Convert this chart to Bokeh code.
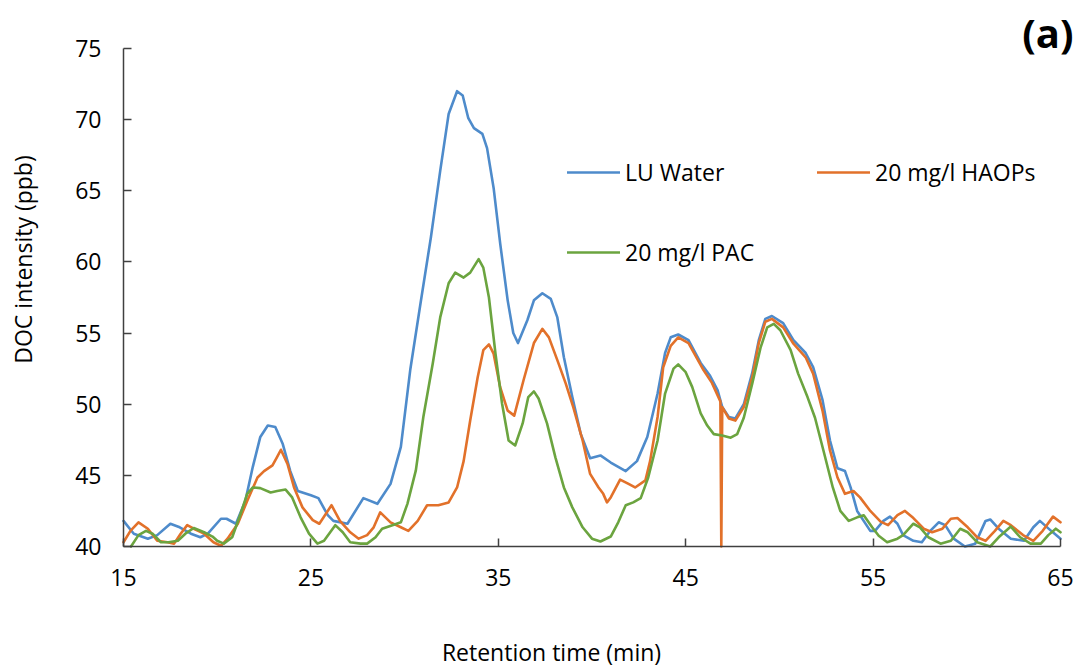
from math import pi
from bokeh.plotting import figure
from bokeh.models import Range1d, FixedTicker, Legend, LegendItem, Label
from bokeh.embed import file_html
from bokeh.resources import INLINE

# ---------------- data ----------------
x_ticks = [15, 25, 35, 45, 55, 65]
y_ticks = [40, 45, 50, 55, 60, 65, 70, 75]

lu_time = [15.0, 15.55, 16.3, 16.8, 17.5, 18.0, 18.6, 19.1, 19.5, 20.2,
           20.5, 21.0, 21.5, 21.9, 22.3, 22.7, 23.1, 23.5, 23.9, 24.3,
           25.0, 25.4, 25.9, 26.2, 26.95, 27.8, 28.55, 29.25, 29.8, 30.3,
           30.85, 31.4, 31.9, 32.35, 32.8, 33.1, 33.4, 33.7, 34.15, 34.4,
           34.75, 35.1, 35.5, 35.8, 36.05, 36.55, 36.9, 37.35, 37.8, 38.15,
           38.5, 38.95, 39.4, 39.9, 40.45, 41.0, 41.8, 42.4, 42.95, 43.5,
           43.9, 44.2, 44.6, 45.15, 45.8, 46.3, 46.7, 46.95, 47.3, 47.65,
           48.1, 48.55, 48.9, 49.25, 49.6, 50.2, 50.75, 51.4, 51.8, 52.3,
           52.7, 53.1, 53.5, 53.8, 54.15, 54.85, 55.1, 55.55, 55.9, 56.3,
           56.6, 57.15, 57.6, 58.05, 58.5, 58.85, 59.3, 59.9, 60.45, 61.0,
           61.25, 61.7, 62.35, 63.05, 63.55, 63.9, 64.5, 65.0]
lu_doc = [41.8, 40.9, 40.55, 40.8, 41.6, 41.35, 40.9, 40.65, 40.9, 41.95,
          41.95, 41.6, 43.2, 45.6, 47.7, 48.5, 48.4, 47.2, 45.3, 43.9,
          43.6, 43.4, 42.2, 41.8, 41.6, 43.4, 43.0, 44.4, 47.0, 52.4,
          57.1, 61.7, 66.4, 70.4, 72.0, 71.7, 70.1, 69.4, 69.0, 68.0,
          65.2, 61.3, 57.3, 55.0, 54.3, 55.9, 57.3, 57.8, 57.4, 56.1,
          53.3, 50.5, 47.9, 46.2, 46.4, 45.9, 45.3, 46.0, 47.7, 50.75,
          53.6, 54.7, 54.9, 54.5, 52.9, 52.0, 51.0, 49.8, 49.1, 49.0,
          50.0, 52.2, 54.5, 56.0, 56.2, 55.7, 54.5, 53.6, 52.6, 50.3,
          47.45, 45.5, 45.3, 44.15, 42.5, 41.1, 41.1, 41.8, 42.1, 41.6,
          40.8, 40.4, 40.3, 41.1, 41.7, 41.5, 40.55, 40.0, 40.2, 41.8,
          41.9, 41.25, 40.55, 40.4, 41.35, 41.8, 41.1, 40.55]

haops_time = [15.0, 15.37, 15.8, 16.3, 16.8, 17.35, 17.7, 18.05, 18.4, 18.75,
              19.3, 19.8, 20.2, 20.55, 21.1, 21.6, 22.15, 22.5, 22.95, 23.2,
              23.4, 23.75, 24.1, 24.55, 25.1, 25.45, 26.1, 26.55, 27.1, 27.55,
              28.0, 28.35, 28.7, 29.25, 29.8, 30.2, 30.7, 31.2, 31.8, 32.35,
              32.8, 33.15, 33.5, 33.9, 34.2, 34.5, 34.75, 35.1, 35.5, 35.85,
              36.35, 36.9, 37.35, 37.7, 38.15, 38.6, 39.0, 39.5, 39.9, 40.35,
              40.6, 40.8, 41.0, 41.5, 41.95, 42.3, 42.85, 43.1, 43.5, 43.8,
              44.2, 44.6, 45.15, 45.95, 46.4, 46.85, 46.9, 46.95, 47.3, 47.65,
              48.1, 48.55, 48.9, 49.25, 49.6, 50.2, 50.75, 51.4, 51.8, 52.3,
              52.7, 53.1, 53.5, 53.95, 54.3, 54.85, 55.4, 55.8, 56.3, 56.7,
              57.15, 57.7, 58.15, 58.7, 59.15, 59.5, 60.05, 60.55, 61.0, 61.5,
              61.95, 62.35, 63.0, 63.55, 64.05, 64.6, 65.0]
haops_doc = [40.3, 41.1, 41.7, 41.25, 40.4, 40.3, 40.2, 40.9, 41.5, 41.25,
             40.9, 40.3, 40.05, 40.55, 41.6, 43.2, 44.85, 45.3, 45.7, 46.3,
             46.8, 45.8, 44.15, 42.75, 41.85, 41.6, 42.9, 41.8, 41.0, 40.55,
             40.8, 41.35, 42.4, 41.7, 41.35, 41.1, 41.8, 42.9, 42.9, 43.1,
             44.15, 46.0, 48.85, 51.9, 53.8, 54.2, 53.55, 51.2, 49.55, 49.2,
             51.7, 54.3, 55.3, 54.7, 53.1, 51.45, 49.8, 47.45, 45.1, 44.15,
             43.7, 43.1, 43.45, 44.7, 44.4, 44.15, 44.65, 46.0, 49.1, 52.6,
             54.1, 54.7, 54.3, 52.4, 51.5, 50.2, 40.0, 49.8, 49.0, 48.85,
             49.8, 51.9, 54.3, 55.8, 56.0, 55.4, 54.25, 53.3, 52.15, 49.55,
             46.75, 44.85, 43.7, 43.9, 43.45, 42.5, 41.75, 41.5, 42.2, 42.5,
             42.0, 41.25, 41.0, 41.25, 41.95, 42.0, 41.35, 40.65, 40.4, 41.1,
             41.8, 41.5, 40.8, 40.4, 41.1, 42.1, 41.7]

pac_time = [15.4, 15.8, 16.2, 16.55, 17.0, 17.4, 17.9, 18.3, 18.75, 19.3,
            19.75, 20.0, 20.35, 20.8, 21.25, 21.6, 21.9, 22.3, 22.85, 23.2,
            23.65, 24.0, 24.45, 24.9, 25.35, 25.7, 26.0, 26.3, 26.7, 27.1,
            27.65, 28.0, 28.45, 28.8, 29.35, 29.8, 30.15, 30.6, 31.0, 31.5,
            31.9, 32.35, 32.7, 33.15, 33.5, 33.95, 34.2, 34.5, 34.85, 35.2,
            35.55, 35.9, 36.3, 36.6, 36.9, 37.15, 37.6, 38.05, 38.5, 38.95,
            39.5, 40.0, 40.45, 41.0, 41.4, 41.8, 42.2, 42.6, 43.0, 43.5,
            43.9, 44.35, 44.6, 45.0, 45.35, 45.8, 46.15, 46.5, 46.95, 47.4,
            47.75, 48.1, 48.55, 49.0, 49.35, 49.7, 50.05, 50.6, 51.0, 51.5,
            51.9, 52.35, 52.85, 53.25, 53.7, 54.15, 54.5, 54.95, 55.3, 55.75,
            56.3, 56.6, 57.15, 57.5, 57.95, 58.6, 59.15, 59.65, 60.05, 60.55,
            61.25, 61.7, 62.35, 62.85, 63.4, 63.95, 64.35, 64.75, 65.0]
pac_doc = [40.0, 40.8, 41.1, 40.9, 40.3, 40.3, 40.4, 40.9, 41.3, 41.0,
           40.7, 40.4, 40.2, 40.65, 42.3, 43.7, 44.15, 44.1, 43.8, 43.9,
           44.0, 43.45, 42.05, 40.9, 40.2, 40.4, 40.95, 41.5, 41.0, 40.3,
           40.2, 40.2, 40.65, 41.25, 41.5, 41.7, 43.0, 45.35, 49.1, 52.85,
           56.1, 58.5, 59.25, 58.9, 59.25, 60.2, 59.6, 57.5, 53.55, 50.05,
           47.45, 47.1, 48.65, 50.5, 50.9, 50.4, 48.65, 46.25, 44.15, 42.75,
           41.35, 40.55, 40.35, 40.7, 41.7, 42.9, 43.1, 43.4, 44.85, 47.45,
           50.75, 52.5, 52.8, 52.25, 51.2, 49.35, 48.5, 47.9, 47.8, 47.65,
           47.9, 49.05, 51.45, 54.0, 55.4, 55.65, 55.2, 53.8, 52.15, 50.5,
           49.05, 46.75, 44.15, 42.5, 41.8, 42.05, 42.2, 41.35, 40.75, 40.3,
           40.55, 40.8, 41.6, 41.35, 40.65, 40.2, 40.4, 41.25, 41.0, 40.3,
           40.0, 40.65, 41.4, 40.65, 40.2, 40.2, 40.8, 41.25, 41.0]

series_names = ["LU Water", "20 mg/l HAOPs", "20 mg/l PAC"]
series_colors = ["#4E8BCB", "#E2712A", "#6BA43F"]

# ---------------- layout (screen pixels of the axes box) ----------------
W, H = 1078, 670
PX_LEFT, PX_RIGHT = 123, 1060     # x = 15 and x = 65
PX_BOTTOM, PX_TOP = 546, 48       # y = 40 and y = 75
X0, X1 = x_ticks[0], x_ticks[-1]
Y0, Y1 = y_ticks[0], y_ticks[-1]
kx = (PX_RIGHT - PX_LEFT) / (X1 - X0)
ky = (PX_BOTTOM - PX_TOP) / (Y1 - Y0)
x_range = Range1d(X0 - PX_LEFT / kx, X1 + (W - PX_RIGHT) / kx)
y_range = Range1d(Y0 - (H - PX_BOTTOM) / ky, Y1 + PX_TOP / ky)

FONT = "Open Sans"
FS = "23px"
p = figure(width=W, height=H, output_backend="svg", toolbar_location=None,
           x_range=x_range, y_range=y_range, min_border=0)
p.outline_line_color = None
p.background_fill_color = "white"
p.border_fill_color = "white"
p.xgrid.visible = False
p.ygrid.visible = False

p.xaxis[0].fixed_location = Y0
p.yaxis[0].fixed_location = X0
p.xaxis[0].bounds = (X0, X1)
p.yaxis[0].bounds = (Y0, Y1)
for ax, ticks in ((p.xaxis[0], x_ticks), (p.yaxis[0], y_ticks)):
    ax.ticker = FixedTicker(ticks=ticks)
    ax.minor_tick_line_color = None
    ax.major_tick_in = 8
    ax.major_tick_out = 0
    ax.axis_line_color = "#404040"
    ax.axis_line_width = 1.5
    ax.major_tick_line_color = "#404040"
    ax.major_tick_line_width = 1.5
    ax.major_label_text_font = FONT
    ax.major_label_text_font_size = FS
    ax.major_label_text_color = "black"
p.xaxis[0].major_label_standoff = 22
p.yaxis[0].major_label_standoff = 22

line_kw = dict(line_width=2.6, line_join="round", line_cap="round")
r_lu = p.line(lu_time, lu_doc, color=series_colors[0], **line_kw)
r_ha = p.line(haops_time, haops_doc, color=series_colors[1], **line_kw)
r_pac = p.line(pac_time, pac_doc, color=series_colors[2], **line_kw)


def style_legend(leg):
    leg.border_line_color = None
    leg.background_fill_alpha = 0
    leg.padding = 0
    leg.margin = 0
    leg.spacing = 48
    leg.glyph_width = 53
    leg.glyph_height = 32
    leg.label_height = 32
    leg.label_standoff = 5
    leg.label_text_font = FONT
    leg.label_text_font_size = FS
    leg.label_text_color = "black"
    leg.label_text_baseline = "middle"


leg_a = Legend(items=[LegendItem(label=series_names[0], renderers=[r_lu]),
                      LegendItem(label=series_names[2], renderers=[r_pac])],
               location=(567, 402))
leg_b = Legend(items=[LegendItem(label=series_names[1], renderers=[r_ha])],
               location=(817, 482))
style_legend(leg_a)
style_legend(leg_b)
p.add_layout(leg_a)
p.add_layout(leg_b)

p.add_layout(Label(x=551, y=19, x_units="screen", y_units="screen",
                   text="Retention time (min)", text_font=FONT,
                   text_font_size=FS, text_align="center",
                   text_baseline="middle", text_color="black"))
p.add_layout(Label(x=22, y=411, x_units="screen", y_units="screen",
                   text="DOC intensity (ppb)", text_font=FONT,
                   text_font_size=FS, text_align="center",
                   text_baseline="middle", angle=pi / 2, text_color="black"))
p.add_layout(Label(x=1073, y=638, x_units="screen", y_units="screen",
                   text="(a)", text_font=FONT, text_font_size="40px",
                   text_font_style="bold", text_align="right",
                   text_baseline="middle", text_color="black"))

open("out.html", "w").write(file_html(p, INLINE))
